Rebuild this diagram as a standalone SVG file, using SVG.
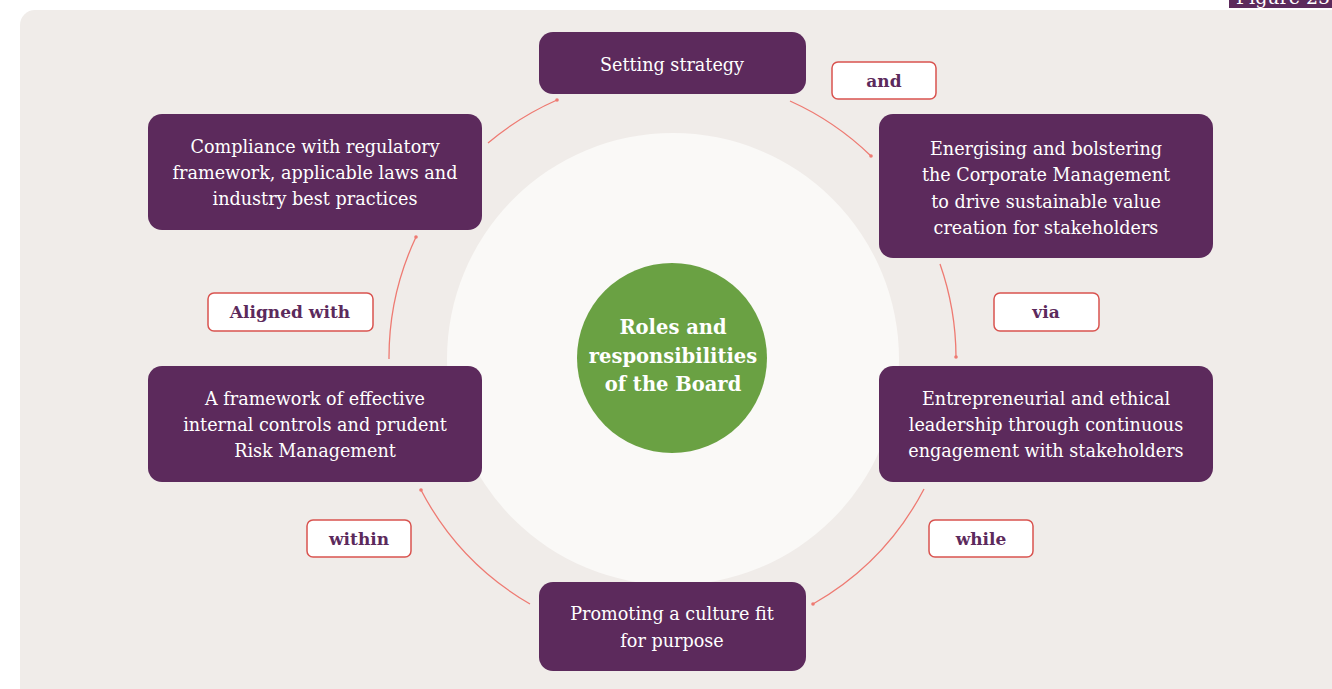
<svg xmlns="http://www.w3.org/2000/svg" width="1332" height="689" viewBox="0 0 1332 689">
<defs>
<style>
.node{fill:#5c2a5c;}
.nt{font-family:"DejaVu Serif","Liberation Serif",serif;font-size:17.6px;fill:#ffffff;text-anchor:middle;}
.lbl{fill:#ffffff;stroke:#d9534f;stroke-width:1.5;}
.lt{font-family:"DejaVu Serif","Liberation Serif",serif;font-size:17px;font-weight:bold;fill:#5c2a5c;text-anchor:middle;}
.ct{font-family:"DejaVu Serif","Liberation Serif",serif;font-size:19.5px;font-weight:bold;fill:#ffffff;text-anchor:middle;}
.conn{fill:none;stroke:#ee7a72;stroke-width:1.3;marker-end:url(#dot);}
</style>
<marker id="dot" viewBox="0 0 4 4" refX="2" refY="2" markerWidth="4" markerHeight="4" markerUnits="userSpaceOnUse">
<circle cx="2" cy="2" r="1.8" fill="#ee7a72"/>
</marker>
</defs>
<rect x="0" y="0" width="1332" height="689" fill="#ffffff"/>
<rect x="20" y="10" width="1340" height="700" rx="15" fill="#f0ece9"/>
<g id="figure-tab">
<rect x="1229" y="-20" width="110" height="28" fill="#5c2a5c"/>
<text x="1283" y="4" font-family="DejaVu Serif, serif" font-size="19" fill="#ffffff" text-anchor="middle">Figure 25</text>
</g>
<circle cx="673" cy="359" r="226" fill="#faf9f7"/>
<g id="connectors">
<path class="conn" d="M790,101 A283,283 0 0 1 871,156"/>
<path class="conn" d="M940,264 A283,283 0 0 1 956,357"/>
<path class="conn" d="M924,489 A283,283 0 0 1 813,604"/>
<path class="conn" d="M530,604 A283,283 0 0 1 421,490"/>
<path class="conn" d="M389,359 A283,283 0 0 1 416,237"/>
<path class="conn" d="M488,143 A283,283 0 0 1 557,100"/>
</g>
<g id="center">
<circle cx="672" cy="358" r="95" fill="#6aa143"/>
<text class="ct" x="673" y="334">Roles and</text>
<text class="ct" x="673" y="363">responsibilities</text>
<text class="ct" x="673" y="391">of the Board</text>
</g>
<g id="setting-strategy">
<rect class="node" x="539" y="32" width="267" height="62" rx="14"/>
<text class="nt" x="672" y="71">Setting strategy</text>
</g>
<g id="energising">
<rect class="node" x="879" y="114" width="334" height="144" rx="14"/>
<text class="nt" x="1046" y="155">Energising and bolstering</text>
<text class="nt" x="1046" y="181">the Corporate Management</text>
<text class="nt" x="1046" y="208">to drive sustainable value</text>
<text class="nt" x="1046" y="234">creation for stakeholders</text>
</g>
<g id="entrepreneurial">
<rect class="node" x="879" y="366" width="334" height="116" rx="14"/>
<text class="nt" x="1046" y="405">Entrepreneurial and ethical</text>
<text class="nt" x="1046" y="431">leadership through continuous</text>
<text class="nt" x="1046" y="457">engagement with stakeholders</text>
</g>
<g id="promoting">
<rect class="node" x="539" y="582" width="267" height="89" rx="14"/>
<text class="nt" x="672" y="620">Promoting a culture fit</text>
<text class="nt" x="672" y="647">for purpose</text>
</g>
<g id="framework">
<rect class="node" x="148" y="366" width="334" height="116" rx="14"/>
<text class="nt" x="315" y="405">A framework of effective</text>
<text class="nt" x="315" y="431">internal controls and prudent</text>
<text class="nt" x="315" y="457">Risk Management</text>
</g>
<g id="compliance">
<rect class="node" x="148" y="114" width="334" height="116" rx="14"/>
<text class="nt" x="315" y="153">Compliance with regulatory</text>
<text class="nt" x="315" y="179">framework, applicable laws and</text>
<text class="nt" x="315" y="205">industry best practices</text>
</g>
<g id="label-and">
<rect class="lbl" x="832" y="62" width="104" height="37" rx="6"/>
<text class="lt" x="884" y="87">and</text>
</g>
<g id="label-via">
<rect class="lbl" x="994" y="293" width="105" height="38" rx="6"/>
<text class="lt" x="1046" y="318">via</text>
</g>
<g id="label-while">
<rect class="lbl" x="929" y="520" width="104" height="37" rx="6"/>
<text class="lt" x="981" y="545">while</text>
</g>
<g id="label-within">
<rect class="lbl" x="307" y="520" width="104" height="37" rx="6"/>
<text class="lt" x="359" y="545">within</text>
</g>
<g id="label-aligned">
<rect class="lbl" x="208" y="293" width="165" height="38" rx="6"/>
<text class="lt" x="290" y="318">Aligned with</text>
</g>
</svg>
